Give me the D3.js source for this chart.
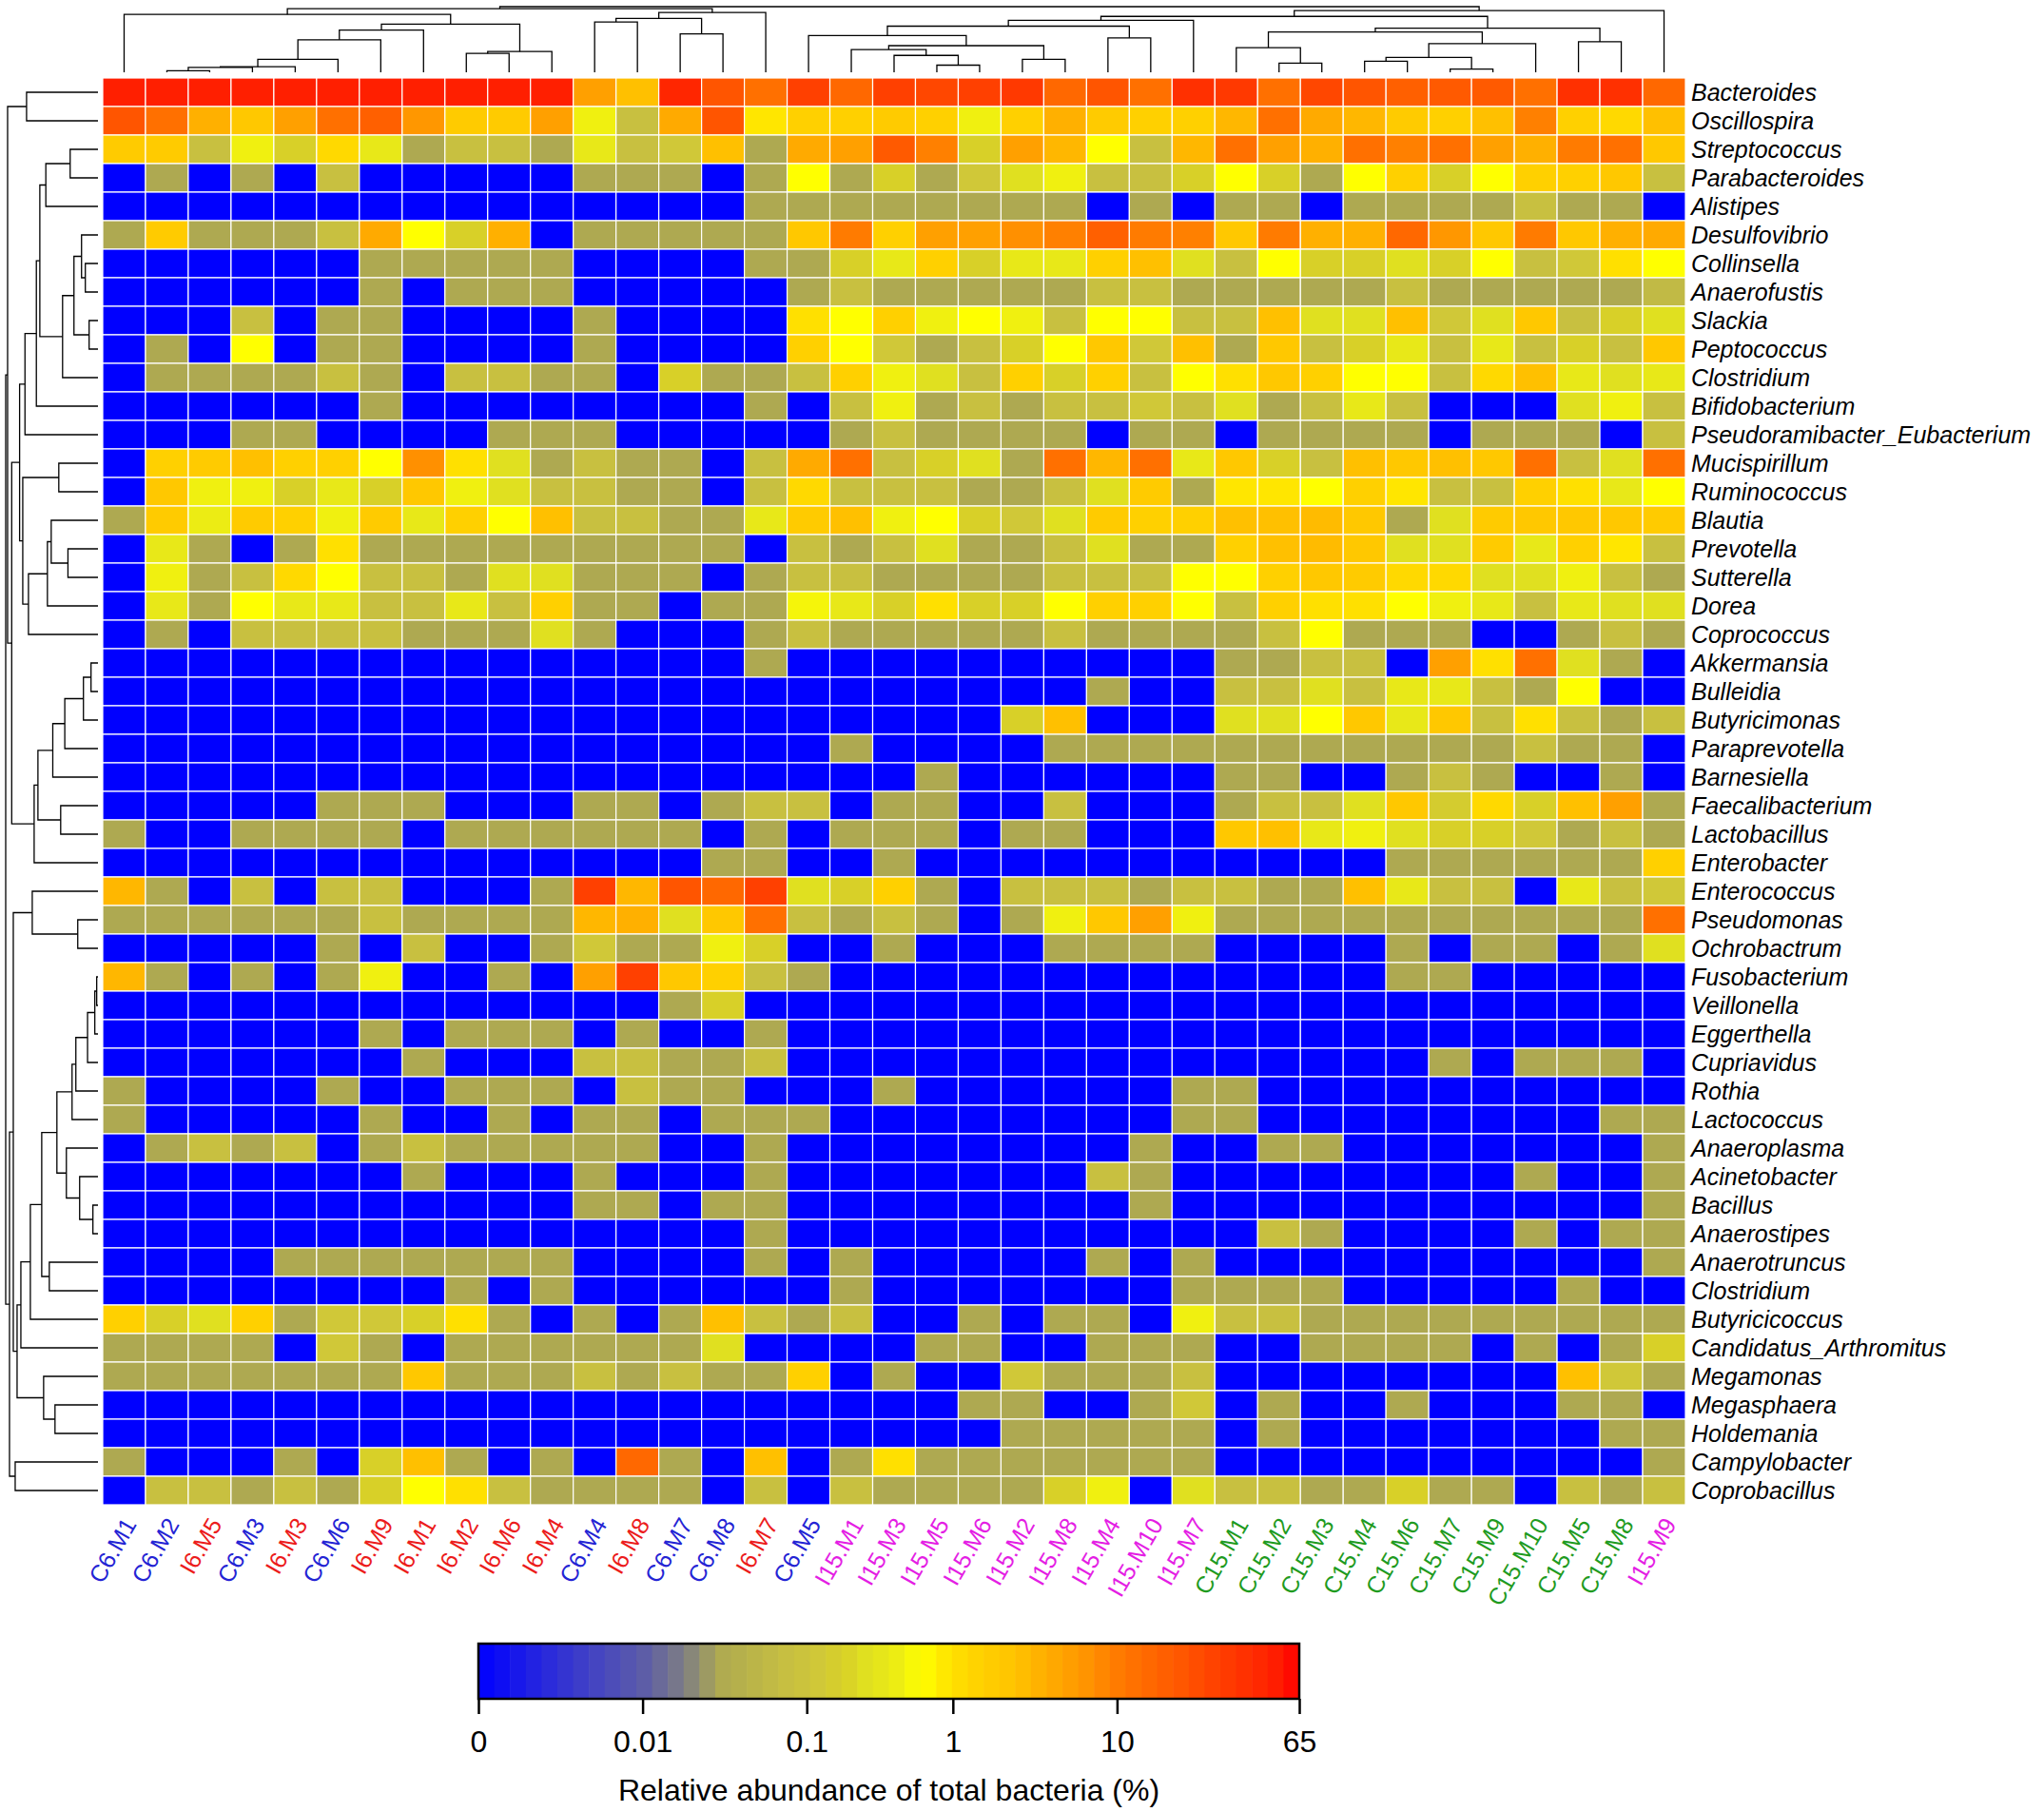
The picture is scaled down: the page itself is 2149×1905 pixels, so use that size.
<!DOCTYPE html>
<html>
<head>
<meta charset="utf-8">
<script src="https://cdn.jsdelivr.net/npm/d3@7"></script>
<style>
  body { margin: 0; background: #fff; }
  text { font-family: "Liberation Sans", Arial, sans-serif; }
</style>
</head>
<body>
<svg id="chart"></svg>
<script>
// sample (column) order as in the clustered heatmap
var sampleNames = ["C6.M1","C6.M2","I6.M5","C6.M3","I6.M3","C6.M6","I6.M9","I6.M1","I6.M2","I6.M6","I6.M4",
  "C6.M4","I6.M8","C6.M7","C6.M8","I6.M7","C6.M5","I15.M1","I15.M3","I15.M5","I15.M6","I15.M2","I15.M8",
  "I15.M4","I15.M10","I15.M7","C15.M1","C15.M2","C15.M3","C15.M4","C15.M6","C15.M7","C15.M9","C15.M10",
  "C15.M5","C15.M8","I15.M9"];

// genus (row) order
var genusNames = ["Bacteroides","Oscillospira","Streptococcus","Parabacteroides","Alistipes","Desulfovibrio",
  "Collinsella","Anaerofustis","Slackia","Peptococcus","Clostridium","Bifidobacterium",
  "Pseudoramibacter_Eubacterium","Mucispirillum","Ruminococcus","Blautia","Prevotella","Sutterella","Dorea",
  "Coprococcus","Akkermansia","Bulleidia","Butyricimonas","Paraprevotella","Barnesiella","Faecalibacterium",
  "Lactobacillus","Enterobacter","Enterococcus","Pseudomonas","Ochrobactrum","Fusobacterium","Veillonella",
  "Eggerthella","Cupriavidus","Rothia","Lactococcus","Anaeroplasma","Acinetobacter","Bacillus","Anaerostipes",
  "Anaerotruncus","Clostridium","Butyricicoccus","Candidatus_Arthromitus","Megamonas","Megasphaera",
  "Holdemania","Campylobacter","Coprobacillus"];

// relative abundance (%), one row per genus, columns follow sampleNames
var abundance = [
  [50,50,50,50,50,50,50,50,50,50,50,5,2.5, 45,20,12,28,14,28,25,28,32,14,20,12, 38,32,12,25,20,16,18,18,12,38,38,14],
  [20,12,3.5,2,5,12,16,6,1.8,1.8,5,.45,.08, 4,20,.9,1.5,1.5,1.8,1.5,.45,1.5,3.5,1.8,1.5, 1.5,3,12,4,3,1.8,1.5,2.5,9,1.5,1.2,2.5],
  [1.8,1.8,.08,.45,.18,1.2,.35,.03,.08,.08,.03,.35,.08, .12,2.5,.03,4,5,18,9,.18,5,3,.6,.08, 3,12,5,3.5,12,9,12,5,3.5,10,12,2],
  [0,.03,0,.03,0,.08,0,0,0,0,0,.03,.03, .03,0,.03,.6,.03,.18,.03,.12,.25,.45,.08,.08, .18,.6,.18,.03,.6,1.5,.18,.6,1.5,1.5,2,.08],
  [0,0,0,0,0,0,0,0,0,0,0,0,0, 0,0,.03,.03,.03,.03,.03,.03,.03,.03,0,.03, 0,.03,.03,0,.03,.03,.03,.03,.08,.03,.03,0],
  [.03,1.8,.03,.03,.03,.08,4,.6,.18,3.5,0,.03,.03, .03,.03,.03,2,10,1.5,5,5,7,9,16,10, 9,2,10,3.5,3.5,14,6,2,10,2,3.5,4],
  [0,0,0,0,0,0,.03,.03,.03,.03,.03,0,0, 0,0,.03,.03,.18,.35,1.5,.18,.35,.35,1.5,2.5, .25,.08,.6,.18,.18,.25,.18,.6,.08,.12,1,.6],
  [0,0,0,0,0,0,.03,0,.03,.03,.03,0,0, 0,0,0,.03,.08,.03,.03,.03,.03,.03,.08,.08, .03,.03,.03,.03,.03,.08,.03,.03,.03,.03,.03,.06],
  [0,0,0,.08,0,.03,.03,0,0,0,0,.03,0, 0,0,0,1,.6,1.5,.45,.6,.45,.08,.6,.6, .08,.08,2.5,.25,.25,2.5,.12,.25,2,.08,.18,.25],
  [0,.03,0,.6,0,.03,.03,0,0,0,0,.03,0, 0,0,0,1.5,.6,.12,.03,.08,.18,.6,2,.12, 2.5,.03,2,.08,.18,.35,.08,.35,.08,.18,.08,2],
  [0,.03,.03,.03,.03,.08,.03,0,.08,.08,.03,.03,0, .18,.03,.03,.08,1.5,.45,.25,.08,1.5,.18,1.5,.08, .6,1,2,1.5,.6,.6,.08,1.2,2.5,.35,.25,.35],
  [0,0,0,0,0,0,.03,0,0,0,0,0,0, 0,0,.03,0,.08,.45,.03,.08,.03,.08,.08,.12, .08,.25,.03,.08,.35,.08,0,0,0,.25,.45,.08],
  [0,0,0,.03,.03,0,0,0,0,.03,.03,.03,0, 0,0,0,0,.03,.08,.03,.03,.03,.03,0,.03, .03,0,.03,.03,.03,.03,0,.03,.03,.03,0,.08],
  [0,1.5,1.8,2.5,1.5,1.5,.6,7,1,.25,.03,.08,.03, .03,0,.08,4,12,.08,.18,.25,.03,12,3,12, .35,2,.18,.08,2.5,2,2.5,2,12,.08,.25,12],
  [0,2,.45,.45,.18,.35,.18,2,.45,.25,.08,.08,.03, .03,0,.08,1.2,.08,.08,.08,.03,.03,.08,.25,1.8, .03,.9,.9,.6,1.5,.9,.08,.08,1.5,1,.35,.6],
  [.03,1.8,.4,1.8,1.5,.45,1.8,.35,1.5,.6,2.5,.08,.08, .03,.03,.35,1.8,2.5,.45,.6,.18,.12,.25,1.8,1.5, 1.5,2.5,2.5,2.8,2,.03,.25,1.8,2,2,2,1.8],
  [0,.35,.03,0,.03,1,.03,.03,.03,.03,.03,.03,.03, .03,.03,0,.08,.03,.08,.25,.03,.03,.08,.25,.03, .03,1.5,2.5,2.8,2,.25,.25,1.8,.35,1.5,.9,.08],
  [0,.45,.03,.08,1.2,.6,.08,.08,.03,.25,.25,.03,.03, .03,0,.03,.08,.08,.03,.03,.03,.03,.08,.08,.08, .6,.6,1.5,2,1.8,1.2,1.2,.25,.25,.45,.08,.03],
  [0,.35,.03,.6,.35,.35,.08,.08,.35,.08,1.5,.03,.03, 0,.03,.03,.5,.35,.18,1,.18,.18,.6,1.5,1.5, .6,.08,1.5,1,1,.6,.45,.35,.08,.35,.25,.25],
  [0,.03,0,.08,.08,.08,.08,.03,.03,.03,.25,.03,0, 0,0,.03,.08,.03,.03,.03,.03,.03,.08,.03,.03, .03,.03,.08,.6,.03,.03,.03,0,0,.03,.08,.03],
  [0,0,0,0,0,0,0,0,0,0,0,0,0, 0,0,.03,0,0,0,0,0,0,0,0,0, 0,.03,.03,.08,.08,0,5,1,12,.25,.03,0],
  [0,0,0,0,0,0,0,0,0,0,0,0,0, 0,0,0,0,0,0,0,0,0,0,.03,0, 0,.08,.08,.25,.08,.35,.35,.08,.03,.6,0,0],
  [0,0,0,0,0,0,0,0,0,0,0,0,0, 0,0,0,0,0,0,0,0,.18,2.5,0,0, 0,.25,.25,.6,2,.35,2,.08,1,.08,.03,.08],
  [0,0,0,0,0,0,0,0,0,0,0,0,0, 0,0,0,0,.03,0,0,0,0,.03,.03,.03, .03,.03,.03,.03,.03,.03,.03,.03,.08,.03,.03,0],
  [0,0,0,0,0,0,0,0,0,0,0,0,0, 0,0,0,0,0,0,.03,0,0,0,0,0, 0,.03,.03,0,0,.03,.08,.03,0,0,.03,0],
  [0,0,0,0,0,.03,.03,.03,0,0,0,.03,.03, 0,.03,.08,.08,0,.03,.03,0,0,.08,0,0, 0,.03,.08,.08,.25,2,.15,1.2,.18,2.5,5,.03],
  [.03,0,0,.03,.03,.03,.03,0,.03,.03,.03,.03,.03, .03,0,.03,0,.03,.03,.03,0,.03,.03,0,0, 0,2,2.5,.35,.45,.25,.18,.18,.12,.03,.08,.03],
  [0,0,0,0,0,0,0,0,0,0,0,0,0, 0,.03,.03,0,0,.03,0,0,0,0,0,0, 0,0,0,0,0,.03,.03,.03,.03,.03,.03,1.5],
  [3,.03,0,.08,0,.08,.08,0,0,0,.03,28,3, 20,14,28,.25,.18,1.5,.03,0,.08,.08,.08,.03, .08,.08,.03,.03,2.5,.35,.08,.08,0,.35,.08,.12],
  [.03,.03,.03,.03,.03,.03,.08,.03,.03,.03,.03,3,3.5, .25,2,12,.08,.03,.08,.03,0,.03,.45,2,5, .45,.03,.03,.03,.03,.03,.03,.03,.03,.03,.03,12],
  [0,0,0,0,0,.03,0,.08,0,0,.03,.12,.03, .03,.45,.18,0,0,.03,0,0,0,.03,.03,.03, .03,0,0,0,0,.03,0,.03,.03,0,.03,.25],
  [3,.03,0,.03,0,.03,.45,0,0,.03,0,5,28, 2,1.5,.08,.03,0,0,0,0,0,0,0,0, 0,0,0,0,0,.03,.03,0,0,0,0,0],
  [0,0,0,0,0,0,0,0,0,0,0,0,0, .03,.18,0,0,0,0,0,0,0,0,0,0, 0,0,0,0,0,0,0,0,0,0,0,0],
  [0,0,0,0,0,0,.03,0,.03,.03,.03,0,.03, 0,0,.03,0,0,0,0,0,0,0,0,0, 0,0,0,0,0,0,0,0,0,0,0,0],
  [0,0,0,0,0,0,0,.03,0,0,0,.08,.08, .03,.03,.08,0,0,0,0,0,0,0,0,0, 0,0,0,0,0,0,.03,0,.03,.03,.03,0],
  [.03,0,0,0,0,.03,0,0,.03,.03,.03,0,.08, .03,.03,0,0,0,.03,0,0,0,0,0,0, .03,.03,0,0,0,0,0,0,0,0,0,0],
  [.03,0,0,0,0,0,.03,0,0,.03,0,.03,.03, 0,.03,.03,.03,0,0,0,0,0,0,0,0, .03,.03,0,0,0,0,0,0,0,0,.03,.03],
  [0,.03,.08,.03,.08,0,.03,.08,.03,.03,.03,.03,.03, 0,0,.03,0,0,0,0,0,0,0,0,.03, 0,0,.03,.03,0,0,0,0,0,0,0,.03],
  [0,0,0,0,0,0,0,.03,0,0,0,.03,0, 0,0,.03,0,0,0,0,0,0,0,.08,.03, 0,0,0,0,0,0,0,0,.03,0,0,.03],
  [0,0,0,0,0,0,0,0,0,0,0,.03,.03, 0,.03,.03,0,0,0,0,0,0,0,0,.03, 0,0,0,0,0,0,0,0,0,0,0,.03],
  [0,0,0,0,0,0,0,0,0,0,0,0,0, 0,0,.03,0,0,0,0,0,0,0,0,0, 0,0,.08,.03,0,0,0,0,.03,0,.03,.03],
  [0,0,0,0,.03,.03,.03,.03,.03,.03,.03,0,0, 0,0,.03,0,.03,0,0,0,0,0,.03,0, .03,0,0,0,0,0,0,0,0,0,0,.03],
  [0,0,0,0,0,0,0,0,.03,0,.03,0,0, 0,0,0,0,.03,0,0,0,0,0,0,0, .03,.03,.03,.03,0,0,0,0,0,.03,0,0],
  [1.5,.18,.25,1.5,.03,.12,.12,.18,1,.03,0,.03,0, .03,2.5,.08,.03,.08,0,0,.03,0,.03,.03,0, .45,.08,.08,.03,.03,.03,.03,.03,.03,.03,.03,.03],
  [.03,.03,.03,.03,0,.12,.03,0,.03,.03,.03,.03,.03, .03,.25,0,0,0,0,.03,.03,0,0,.03,.03, .03,0,0,.03,.03,.03,.03,0,.03,0,.03,.18],
  [.03,.03,.03,.03,.03,.03,.03,2,.03,.03,.03,.08,.03, .08,.03,.03,1.5,0,.03,0,0,.12,.03,.03,.03, .08,0,0,0,0,0,0,0,0,2.5,.12,.03],
  [0,0,0,0,0,0,0,0,0,0,0,0,0, 0,0,0,0,0,0,0,.03,.03,0,0,.03, .12,0,.03,0,0,.03,0,0,0,.03,.03,0],
  [0,0,0,0,0,0,0,0,0,0,0,0,0, 0,0,0,0,0,0,0,0,.03,.03,.03,.03, .03,0,.03,0,0,0,0,0,0,0,.03,.03],
  [.03,0,0,0,.03,0,.18,2.5,.03,0,.03,0,14, .03,0,2.5,0,.03,1,.03,.03,.03,.03,.03,.03, .03,0,0,0,0,0,0,0,0,0,0,.03],
  [0,.08,.08,.03,.08,.03,.18,.6,1,.08,.03,.03,.03, .03,0,.08,0,.08,.03,.03,.03,.03,.18,.45,0, .25,.08,.08,.03,.03,.18,.03,.03,0,.08,.03,.08]
];

// dendrograms: [left, right, merge height]; leaves are column / row indices
var sampleTree = [
  [[0, [[[[[[[1,2,5],3,15],4,17],5,40],6,100],7,130], [[8,9,58],10,64], 148], 178],
   [[[11,12,155],[13,14,118],166],15,184], 196],
  [[[[[16, [[17,[18,[19,20,22],52],70],[21,22,40],82], 113], [23,24,106], 142], 25, 160],
    [[[26,[27,28,28],76], [[[29,30,34],[31,32,10],46],33,88], 124], [34,35,94], 136], 172], 36, 190],
  202];

var genusTree = [
  [[0,1,226],
   [[[[[[[2,3,88],4,165], [[[5,[6,7,40],52],[8,9,28],76],10,112], 184], 11, 195], 12, 231],
      [[13,14,124],[[[15,[16,17,95],148],18,160],19,220],238], 248],
    [[[[[[20,21,22],22,46],23,105],24,143],[25,26,118],190],27,202], 273], 286],
  [[[28,[29,30,64],208],
    [[[[[[[[[[31,32,4],33,10],34,33],35,70],36,82], [37,[38,[39,40,16],58],100], 130], [41,42,154], 178], 43, 214], 44, 244],
     [45,[46,47,136],172], 256], 268],
   [48,49,262], 280],
  292];

// colour key
var tickValues = [0, 0.01, 0.1, 1, 10, 65];
var tickLabels = ["0", "0.01", "0.1", "1", "10", "65"];
var keyTitle = "Relative abundance of total bacteria (%)";

var groupColors = { C6: "#2424d4", I6: "#ec1c1c", I15: "#e41ee4", C15: "#1f9b1f" };

var W = 2149, H = 1905;
var svg = d3.select("#chart").attr("width", W).attr("height", H);

// value -> position along the colour key (0..1)
var keyPos = d3.scaleLinear()
  .domain([-3, -2, -1, 0, 1, Math.log10(65)])
  .range([0, 0.2, 0.4, 0.578, 0.778, 1])
  .clamp(true);
function frac(v) { return v <= 0 ? 0 : keyPos(Math.log10(v)); }

var keyColor = d3.scaleLinear()
  .domain([0, 0.1, 0.2, 0.25, 0.296, 0.38, 0.414, 0.445, 0.471, 0.497, 0.516, 0.539, 0.578, 0.613,
           0.638, 0.658, 0.687, 0.718, 0.747, 0.769, 0.8, 0.834, 0.86, 0.9, 0.936, 0.968, 1])
  .range(["#0000ff","#3232d4","#5c5ca8","#7e7e84","#afaa50","#c8c040","#d0c838","#d8d028","#e0e020",
          "#e8e818","#f0f010","#ffff00","#ffe000","#ffd000","#ffc800","#ffc000","#ffb000","#ffa000",
          "#ff9000","#ff8000","#ff7000","#ff6000","#ff5500","#ff4000","#ff3000","#ff2000","#ff0000"])
  .clamp(true);
function color(v) { return keyColor(frac(v)); }

// heatmap scales
var x = d3.scaleBand().domain(d3.range(sampleNames.length)).range([108, 1772]);
var y = d3.scaleBand().domain(d3.range(genusNames.length)).range([82, 1582]);

var cells = svg.append("g").attr("class", "cells");
cells.selectAll("g")
  .data(abundance)
  .join("g")
    .attr("transform", function(d, i) { return "translate(0," + y(i) + ")"; })
  .selectAll("rect")
  .data(function(d) { return d; })
  .join("rect")
    .attr("x", function(d, j) { return x(j); })
    .attr("width", x.bandwidth())
    .attr("height", y.bandwidth())
    .attr("fill", color)
    .attr("stroke", "#fff")
    .attr("stroke-width", 1.2);

// row labels
svg.append("g").selectAll("text")
  .data(genusNames)
  .join("text")
    .attr("x", 1778)
    .attr("y", function(d, i) { return y(i) + y.bandwidth() / 2; })
    .attr("dy", "0.36em")
    .attr("font-size", 25)
    .attr("font-style", "italic")
    .text(function(d) { return d; });

// column labels, coloured by group
svg.append("g").selectAll("text")
  .data(sampleNames)
  .join("text")
    .attr("transform", function(d, j) {
      return "translate(" + (x(j) + x.bandwidth() / 2 + 6) + ",1598) rotate(-60)";
    })
    .attr("text-anchor", "end")
    .attr("dy", "0.36em")
    .attr("font-size", 25)
    .attr("fill", function(d) { return groupColors[d.split(".")[0]]; })
    .text(function(d) { return d; });

// dendrograms
function treeSegments(tree, leafPos, height) {
  var root = d3.hierarchy(tree, function(d) { return Array.isArray(d) ? [d[0], d[1]] : null; });
  root.eachAfter(function(n) {
    if (n.children) {
      n.pos = (n.children[0].pos + n.children[1].pos) / 2;
      n.h = n.data[2];
    } else {
      n.pos = leafPos(n.data);
      n.h = 0;
    }
  });
  var segs = [];
  root.each(function(n) {
    if (!n.children) return;
    var a = n.children[0], b = n.children[1];
    segs.push([[a.pos, height(a.h)], [a.pos, height(n.h)], [b.pos, height(n.h)], [b.pos, height(b.h)]]);
  });
  return segs;
}

var colHeight = d3.scaleLinear().domain([0, 202]).range([76, 7]);
var rowHeight = d3.scaleLinear().domain([0, 292]).range([103, 6]);

var line = d3.line();

svg.append("g")
  .selectAll("path")
  .data(treeSegments(sampleTree, function(j) { return x(j) + x.bandwidth() / 2; }, colHeight))
  .join("path")
    .attr("d", line)
    .attr("fill", "none")
    .attr("stroke", "#000")
    .attr("stroke-width", 1.3);

svg.append("g")
  .selectAll("path")
  .data(treeSegments(genusTree, function(i) { return y(i) + y.bandwidth() / 2; }, rowHeight)
    .map(function(s) { return s.map(function(p) { return [p[1], p[0]]; }); }))
  .join("path")
    .attr("d", line)
    .attr("fill", "none")
    .attr("stroke", "#000")
    .attr("stroke-width", 1.3);

// colour key
var keyX = d3.scaleLinear().domain([0, 1]).range([503, 1366]);
var keyTop = 1728, keyBottom = 1786;
var nBands = 52;
var key = svg.append("g");
key.selectAll("rect")
  .data(d3.range(nBands))
  .join("rect")
    .attr("x", function(i) { return keyX(i / nBands); })
    .attr("width", keyX(1 / nBands) - keyX(0) + 0.6)
    .attr("y", keyTop)
    .attr("height", keyBottom - keyTop)
    .attr("fill", function(i) { return keyColor((i + 0.5) / nBands); });
key.append("rect")
  .attr("x", keyX(0)).attr("y", keyTop)
  .attr("width", keyX(1) - keyX(0)).attr("height", keyBottom - keyTop)
  .attr("fill", "none").attr("stroke", "#000").attr("stroke-width", 2.5);

var keyAxis = d3.axisBottom(keyX)
  .tickValues(tickValues.map(frac))
  .tickFormat(function(d, i) { return tickLabels[i]; })
  .tickSize(16)
  .tickPadding(17);
var ax = svg.append("g")
  .attr("transform", "translate(0," + keyBottom + ")")
  .call(keyAxis);
ax.select(".domain").remove();
ax.selectAll(".tick line").attr("stroke", "#000").attr("stroke-width", 2.5);
ax.selectAll(".tick text")
  .attr("fill", "#000")
  .attr("font-size", 32)
  .attr("font-family", "'Liberation Sans', Arial, sans-serif");

svg.append("text")
  .attr("x", (keyX(0) + keyX(1)) / 2)
  .attr("y", 1893)
  .attr("text-anchor", "middle")
  .attr("font-size", 32)
  .text(keyTitle);
</script>
</body>
</html>
